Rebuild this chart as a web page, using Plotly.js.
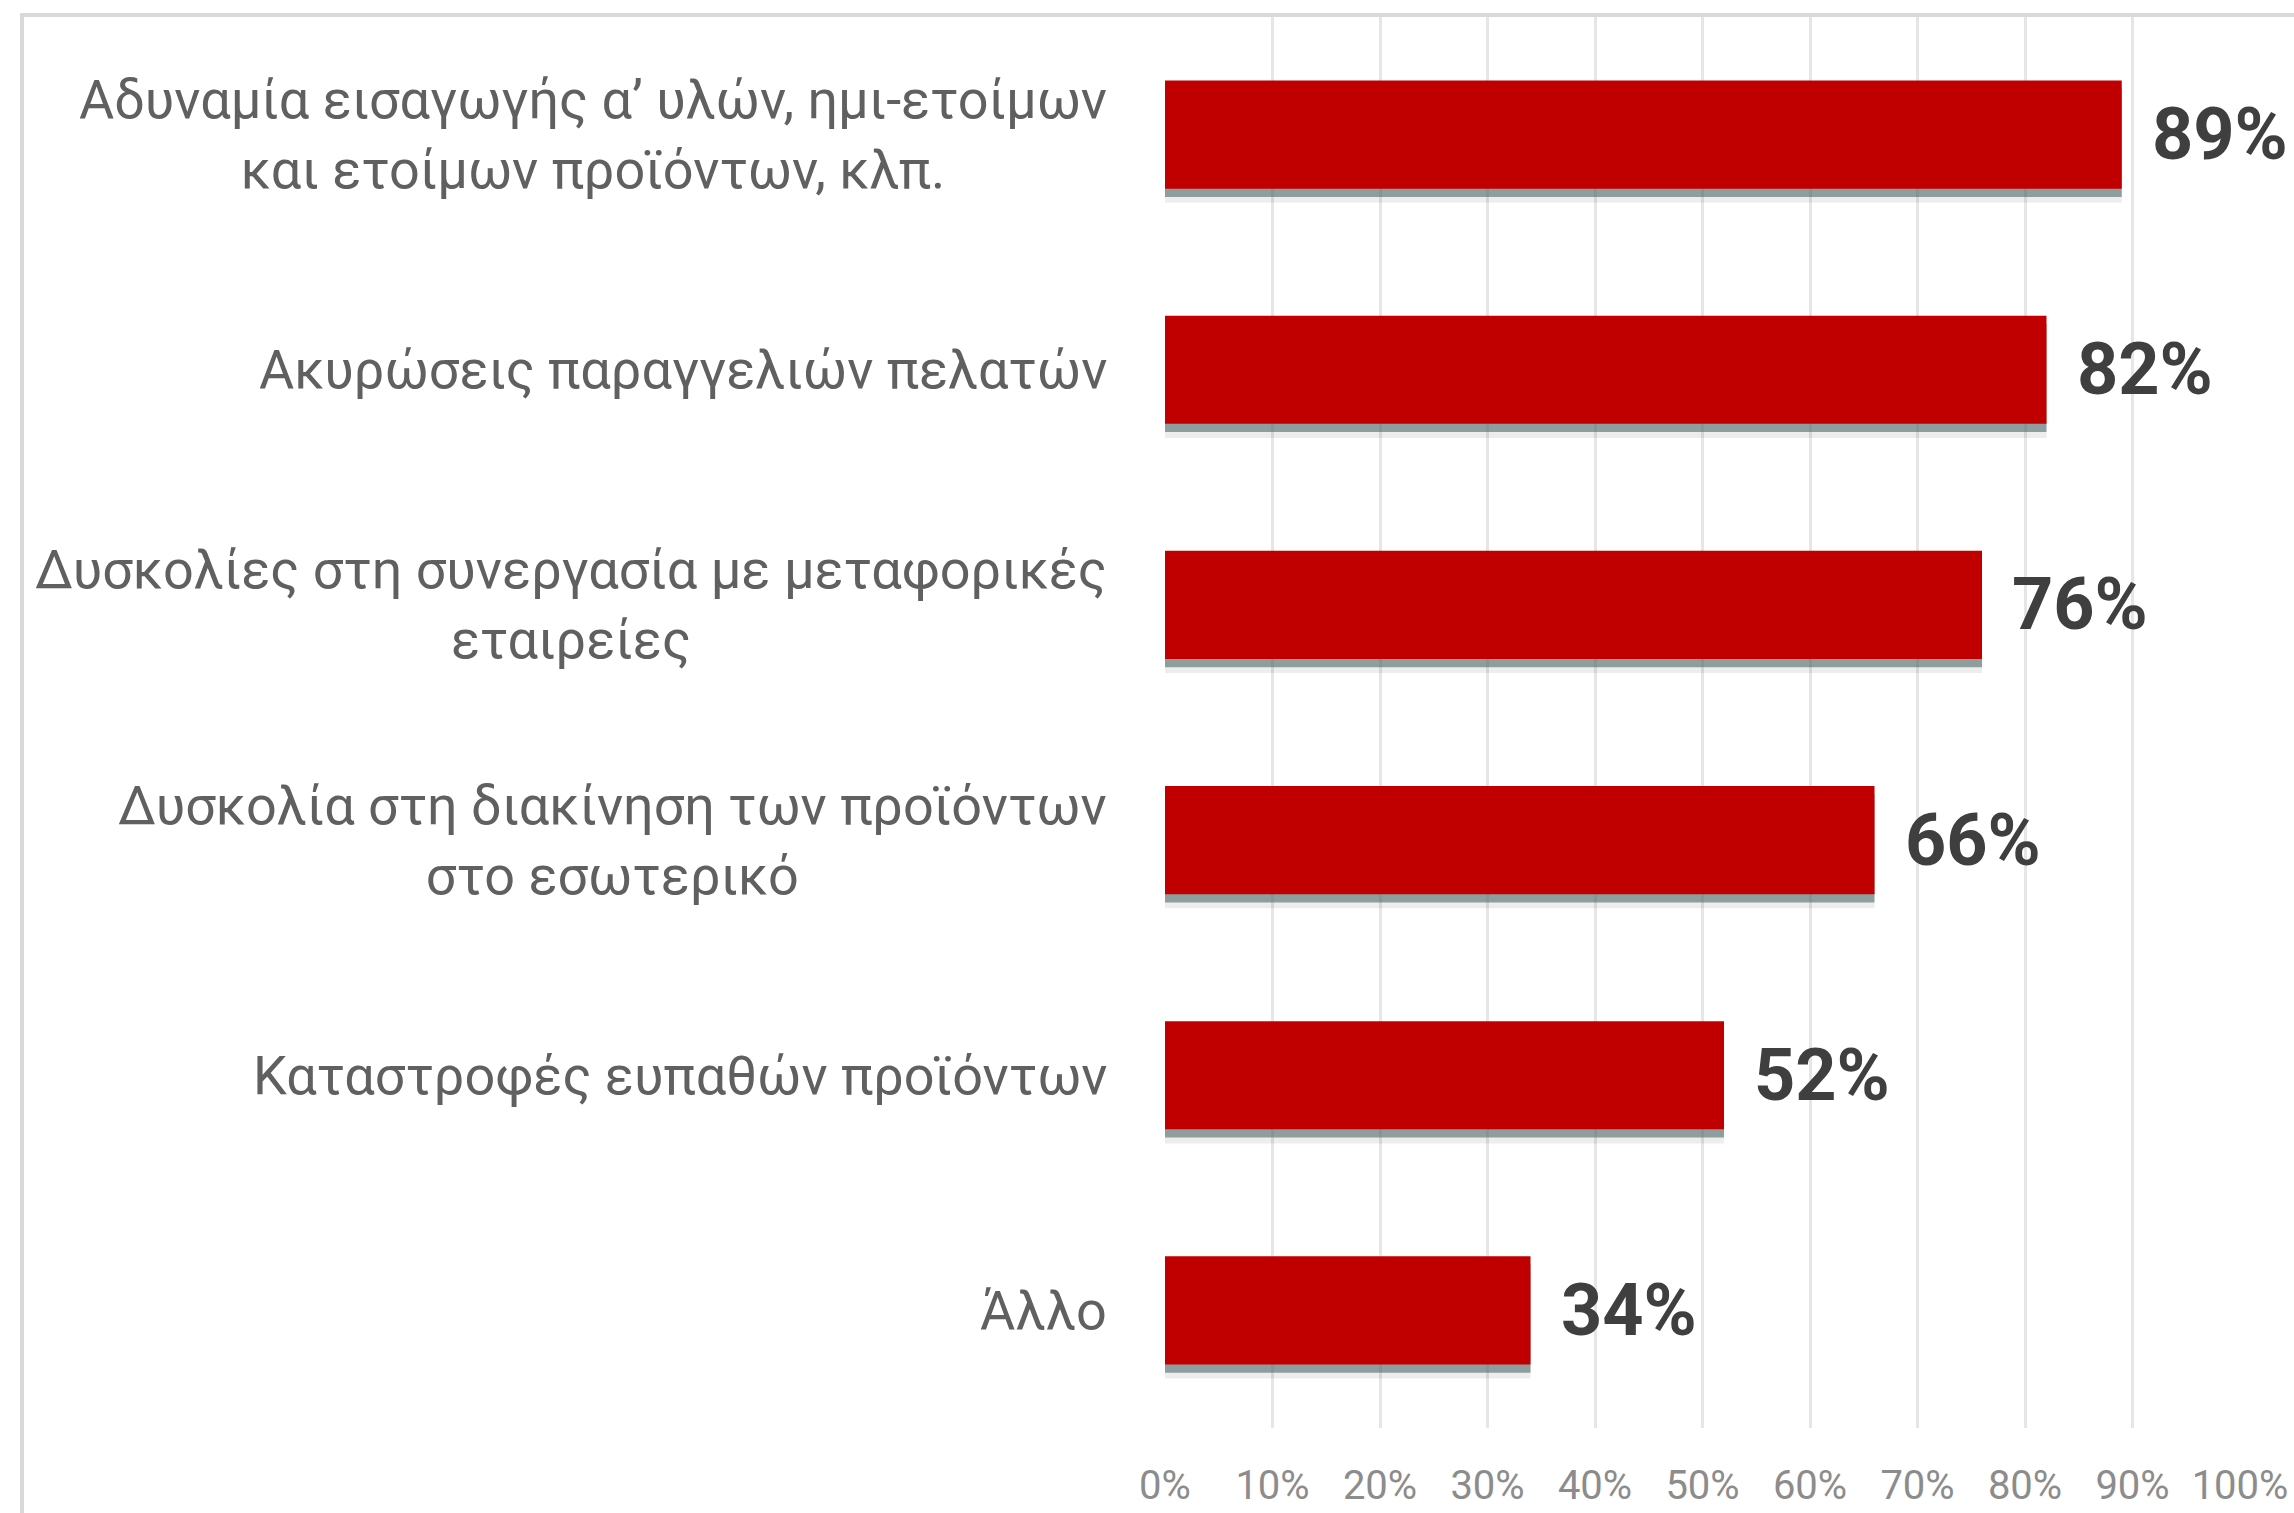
<!DOCTYPE html>
<html>
<head>
<meta charset="utf-8">
<script src="https://cdn.plot.ly/plotly-3.0.1.min.js"></script>
<style>
  html, body { margin: 0; padding: 0; background: #ffffff; }
  #chart { position: absolute; left: 0; top: 0; width: 2294px; height: 1513px; }
  #frame { position: absolute; left: 20px; top: 13px; width: 2400px; height: 1600px;
           border-top: 4px solid #d9d9d9; border-left: 4px solid #d9d9d9; pointer-events: none; }
</style>
</head>
<body>
<div id="chart"></div>
<div id="frame"></div>
<script>
// Categories, top to bottom
const categories = [
  "Αδυναμία εισαγωγής α’ υλών, ημι-ετοίμων<br>και ετοίμων προϊόντων, κλπ.",
  "Ακυρώσεις παραγγελιών πελατών",
  "Δυσκολίες στη συνεργασία με μεταφορικές<br>εταιρείες",
  "Δυσκολία στη διακίνηση των προϊόντων<br>στο εσωτερικό",
  "Καταστροφές ευπαθών προϊόντων",
  "Άλλο"
];
const values = [89, 82, 76, 66, 52, 34];
const valueLabels = ["89%", "82%", "76%", "66%", "52%", "34%"];
const tickValues = [0, 10, 20, 30, 40, 50, 60, 70, 80, 90, 100];
const tickLabels = ["0%", "10%", "20%", "30%", "40%", "50%", "60%", "70%", "80%", "90%", "100%"];

const BAR_W = 0.46;

const shadowSoft = {
  type: 'bar', orientation: 'h', x: values, y: categories,
  width: BAR_W, offset: -BAR_W / 2 + 0.06,
  marker: { color: 'rgba(0,0,0,0.07)', line: { width: 0 } },
  hoverinfo: 'skip', showlegend: false
};
const shadow = {
  type: 'bar', orientation: 'h', x: values, y: categories,
  width: BAR_W, offset: -BAR_W / 2 + 0.035,
  marker: { color: 'rgba(90,115,115,0.65)', line: { width: 0 } },
  hoverinfo: 'skip', showlegend: false
};
const bars = {
  type: 'bar', orientation: 'h', x: values, y: categories,
  width: BAR_W, offset: -BAR_W / 2,
  marker: { color: '#c00000', line: { width: 0 } },
  hoverinfo: 'x+y', showlegend: false
};

const annotations = [];
categories.forEach((c, i) => {
  annotations.push({
    xref: 'paper', yref: 'y', x: 0, y: c, xanchor: 'right', yanchor: 'middle',
    xshift: -56, text: c, showarrow: false, align: 'center',
    font: { family: 'Roboto, sans-serif', size: 54, color: '#606060' }
  });
  annotations.push({
    xref: 'x', yref: 'y', x: values[i], y: c, xanchor: 'left', yanchor: 'middle',
    xshift: 28, text: valueLabels[i], showarrow: false,
    font: { family: 'Roboto, sans-serif', size: 72, color: '#3f3f3f', weight: 'bold' }
  });
});

const layout = {
  width: 2294, height: 1513,
  margin: { l: 1165, r: 54, t: 17, b: 85, pad: 0 },
  paper_bgcolor: 'rgba(0,0,0,0)', plot_bgcolor: 'rgba(0,0,0,0)',
  barmode: 'overlay',
  showlegend: false,
  xaxis: {
    range: [0, 100], tickvals: tickValues, ticktext: tickLabels,
    showgrid: true, gridcolor: '#e6e6e6', gridwidth: 3,
    zeroline: false, showline: false, ticks: '',
    ticklabelstandoff: 30,
    tickfont: { family: 'Roboto, sans-serif', size: 40, color: '#8c8c8c' },
    fixedrange: true
  },
  yaxis: {
    type: 'category', categoryorder: 'array', categoryarray: categories,
    autorange: 'reversed', showticklabels: false, showgrid: false,
    zeroline: false, showline: false, ticks: '', fixedrange: true
  },
  annotations: annotations
};

Plotly.newPlot('chart', [shadowSoft, shadow, bars], layout, { displayModeBar: false, staticPlot: true });
</script>
</body>
</html>
